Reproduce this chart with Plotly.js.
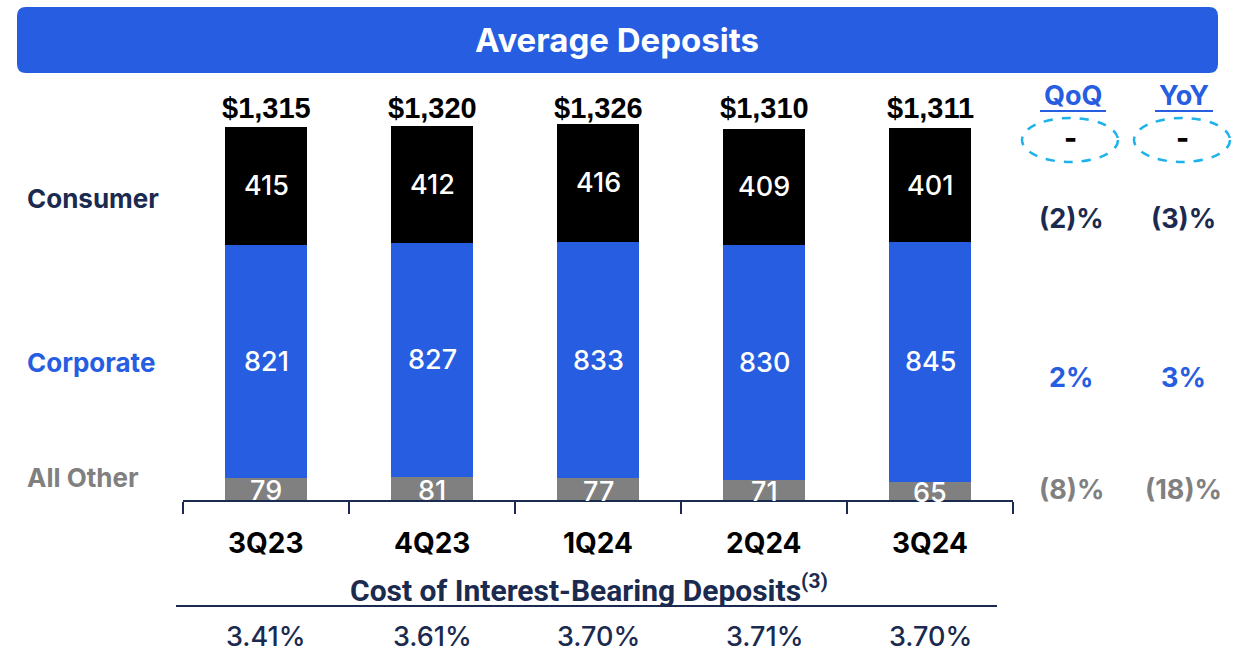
<!DOCTYPE html>
<html>
<head>
<meta charset="utf-8">
<script src="https://cdn.plot.ly/plotly-3.0.1.min.js"></script>
<style>
  html, body { margin: 0; padding: 0; background: #fff; }
  #chart { width: 1234px; height: 653px; }
</style>
</head>
<body>
<div id="chart"></div>
<script>
// data ($B)
var quarters = ['3Q23', '4Q23', '1Q24', '2Q24', '3Q24'];
var consumer = [415, 412, 416, 409, 401];
var corporate = [821, 827, 833, 830, 845];
var allOther = [79, 81, 77, 71, 65];
var totals = ['$1,315', '$1,320', '$1,326', '$1,310', '$1,311'];
var costIBD = ['3.41%', '3.61%', '3.70%', '3.71%', '3.70%'];

var segNames = ['Consumer', 'Corporate', 'All Other'];
var qoq = ['(2)%', '2%', '(8)%'];
var yoy = ['(3)%', '3%', '(18)%'];

var blue = '#265DE1';
var navy = '#1B2A4F';
var grey = '#808080';
var cyan = '#1EB2EA';
var fnt = 'Inter, "Liberation Sans", Arial, sans-serif';
var narrow = '"Liberation Sans Narrow", "Roboto", sans-serif';

// plot area in pixels, helpers to place things around it
var L = 183, R = 1013, T = 103, B = 500;
function px(x) { return (x - L) / (R - L); }
function py(y) { return (B - y) / (B - T); }

var xs = quarters.map(function (q, i) { return i; });

var traces = [
  {x: xs, y: allOther, type: 'bar', marker: {color: grey}, name: 'All Other', hoverinfo: 'none'},
  {x: xs, y: corporate, type: 'bar', marker: {color: blue}, name: 'Corporate', hoverinfo: 'none'},
  {x: xs, y: consumer, type: 'bar', marker: {color: '#000000'}, name: 'Consumer', hoverinfo: 'none'}
];

var ann = [];
function txt(x, y, text, font, extra) {
  var a = {x: px(x), xref: 'paper', y: py(y), yref: 'paper', text: text, showarrow: false,
    xanchor: 'center', yanchor: 'middle', font: font};
  for (var k in extra) a[k] = extra[k];
  ann.push(a);
}
// segment labels
xs.forEach(function (i) {
  var b0 = allOther[i], b1 = b0 + corporate[i], b2 = b1 + consumer[i];
  var segFont = {family: fnt, size: 27, color: '#fff', weight: 500};
  ann.push({x: i, y: b0 / 2, text: String(allOther[i]), showarrow: false, yshift: -2, font: segFont});
  ann.push({x: i, y: (b0 + b1) / 2, text: String(corporate[i]), showarrow: false, font: segFont});
  ann.push({x: i, y: (b1 + b2) / 2, text: String(consumer[i]), showarrow: false, font: segFont});
  // totals sit on one line above the bars
  ann.push({x: i, y: py(108), yref: 'paper', yanchor: 'middle', text: '<b>' + totals[i] + '</b>', showarrow: false,
    font: {family: '"Liberation Sans", Arial, sans-serif', size: 29, color: '#000'}});
  ann.push({x: i, y: 0, text: quarters[i], showarrow: false, yshift: -43,
    font: {family: fnt, size: 28, color: '#000', weight: 700}});
  ann.push({x: i, y: py(636), yref: 'paper', yanchor: 'middle', text: costIBD[i], showarrow: false,
    font: {family: fnt, size: 27, color: navy, weight: 500}});
});

// left labels
var leftY = [198, 362, 477];
var segCol = [navy, blue, grey];
segNames.forEach(function (s, k) {
  txt(25, leftY[k], s, {family: fnt, size: 26, color: segCol[k], weight: 700}, {xanchor: 'left'});
});

// right side growth
var rightY = [218, 377, 489];
segNames.forEach(function (s, k) {
  txt(1071, rightY[k], qoq[k], {family: fnt, size: 27, color: segCol[k], weight: 700});
  txt(1183, rightY[k], yoy[k], {family: fnt, size: 27, color: segCol[k], weight: 700});
});
txt(1073, 96, 'QoQ', {family: fnt, size: 27, color: blue, weight: 700});
txt(1184, 96, 'YoY', {family: fnt, size: 27, color: blue, weight: 700});
txt(1070, 138, '-', {family: fnt, size: 28, color: '#000', weight: 800});
txt(1182, 138, '-', {family: fnt, size: 28, color: '#000', weight: 800});

// title and footer
txt(617, 40, 'Average Deposits', {family: fnt, size: 33, color: '#fff', weight: 700});
txt(589, 588, 'Cost of Interest-Bearing Deposits<sup>(3)</sup>',
  {family: narrow, size: 30, color: navy, weight: 700});

var shapes = [];
// rounded banner
(function () {
  var x0 = 17, x1 = 1218, y0 = 7, y1 = 73, r = 9;
  var p = 'M' + px(x0 + r) + ',' + py(y0) +
    ' L' + px(x1 - r) + ',' + py(y0) +
    ' Q' + px(x1) + ',' + py(y0) + ' ' + px(x1) + ',' + py(y0 + r) +
    ' L' + px(x1) + ',' + py(y1 - r) +
    ' Q' + px(x1) + ',' + py(y1) + ' ' + px(x1 - r) + ',' + py(y1) +
    ' L' + px(x0 + r) + ',' + py(y1) +
    ' Q' + px(x0) + ',' + py(y1) + ' ' + px(x0) + ',' + py(y1 - r) +
    ' L' + px(x0) + ',' + py(y0 + r) +
    ' Q' + px(x0) + ',' + py(y0) + ' ' + px(x0 + r) + ',' + py(y0) + ' Z';
  shapes.push({type: 'path', xref: 'paper', yref: 'paper', path: p, fillcolor: blue, line: {width: 0}, layer: 'below'});
})();
// dashed ellipses
[[1070, 140], [1182, 140]].forEach(function (c) {
  shapes.push({type: 'circle', xref: 'paper', yref: 'paper',
    x0: px(c[0] - 48), x1: px(c[0] + 48), y0: py(c[1] + 22), y1: py(c[1] - 22),
    line: {color: cyan, width: 2.5, dash: 'dash'}});
});
// underlines
shapes.push({type: 'line', xref: 'paper', yref: 'paper', x0: px(1040), x1: px(1106), y0: py(111), y1: py(111),
  line: {color: blue, width: 2}});
shapes.push({type: 'line', xref: 'paper', yref: 'paper', x0: px(1155), x1: px(1213), y0: py(111), y1: py(111),
  line: {color: blue, width: 2}});
shapes.push({type: 'line', xref: 'paper', yref: 'paper', x0: px(176), x1: px(997), y0: py(606), y1: py(606),
  line: {color: navy, width: 2}});

var layout = {
  width: 1234, height: 653,
  margin: {l: L, r: 1234 - R, t: T, b: 653 - B, pad: 0},
  paper_bgcolor: '#fff', plot_bgcolor: '#fff',
  barmode: 'stack', bargap: 0.506,
  showlegend: false,
  xaxis: {range: [-0.5, 4.5], tickmode: 'array', tickvals: [-0.5, 0.5, 1.5, 2.5, 3.5, 4.5],
    showticklabels: false, ticks: 'outside', ticklen: 12, tickwidth: 2, tickcolor: navy,
    showline: true, linecolor: navy, linewidth: 2, showgrid: false, zeroline: false, fixedrange: true},
  yaxis: {range: [0, 1400], visible: false, fixedrange: true},
  annotations: ann,
  shapes: shapes
};

Plotly.newPlot('chart', traces, layout, {displayModeBar: false, staticPlot: true});
</script>
</body>
</html>
